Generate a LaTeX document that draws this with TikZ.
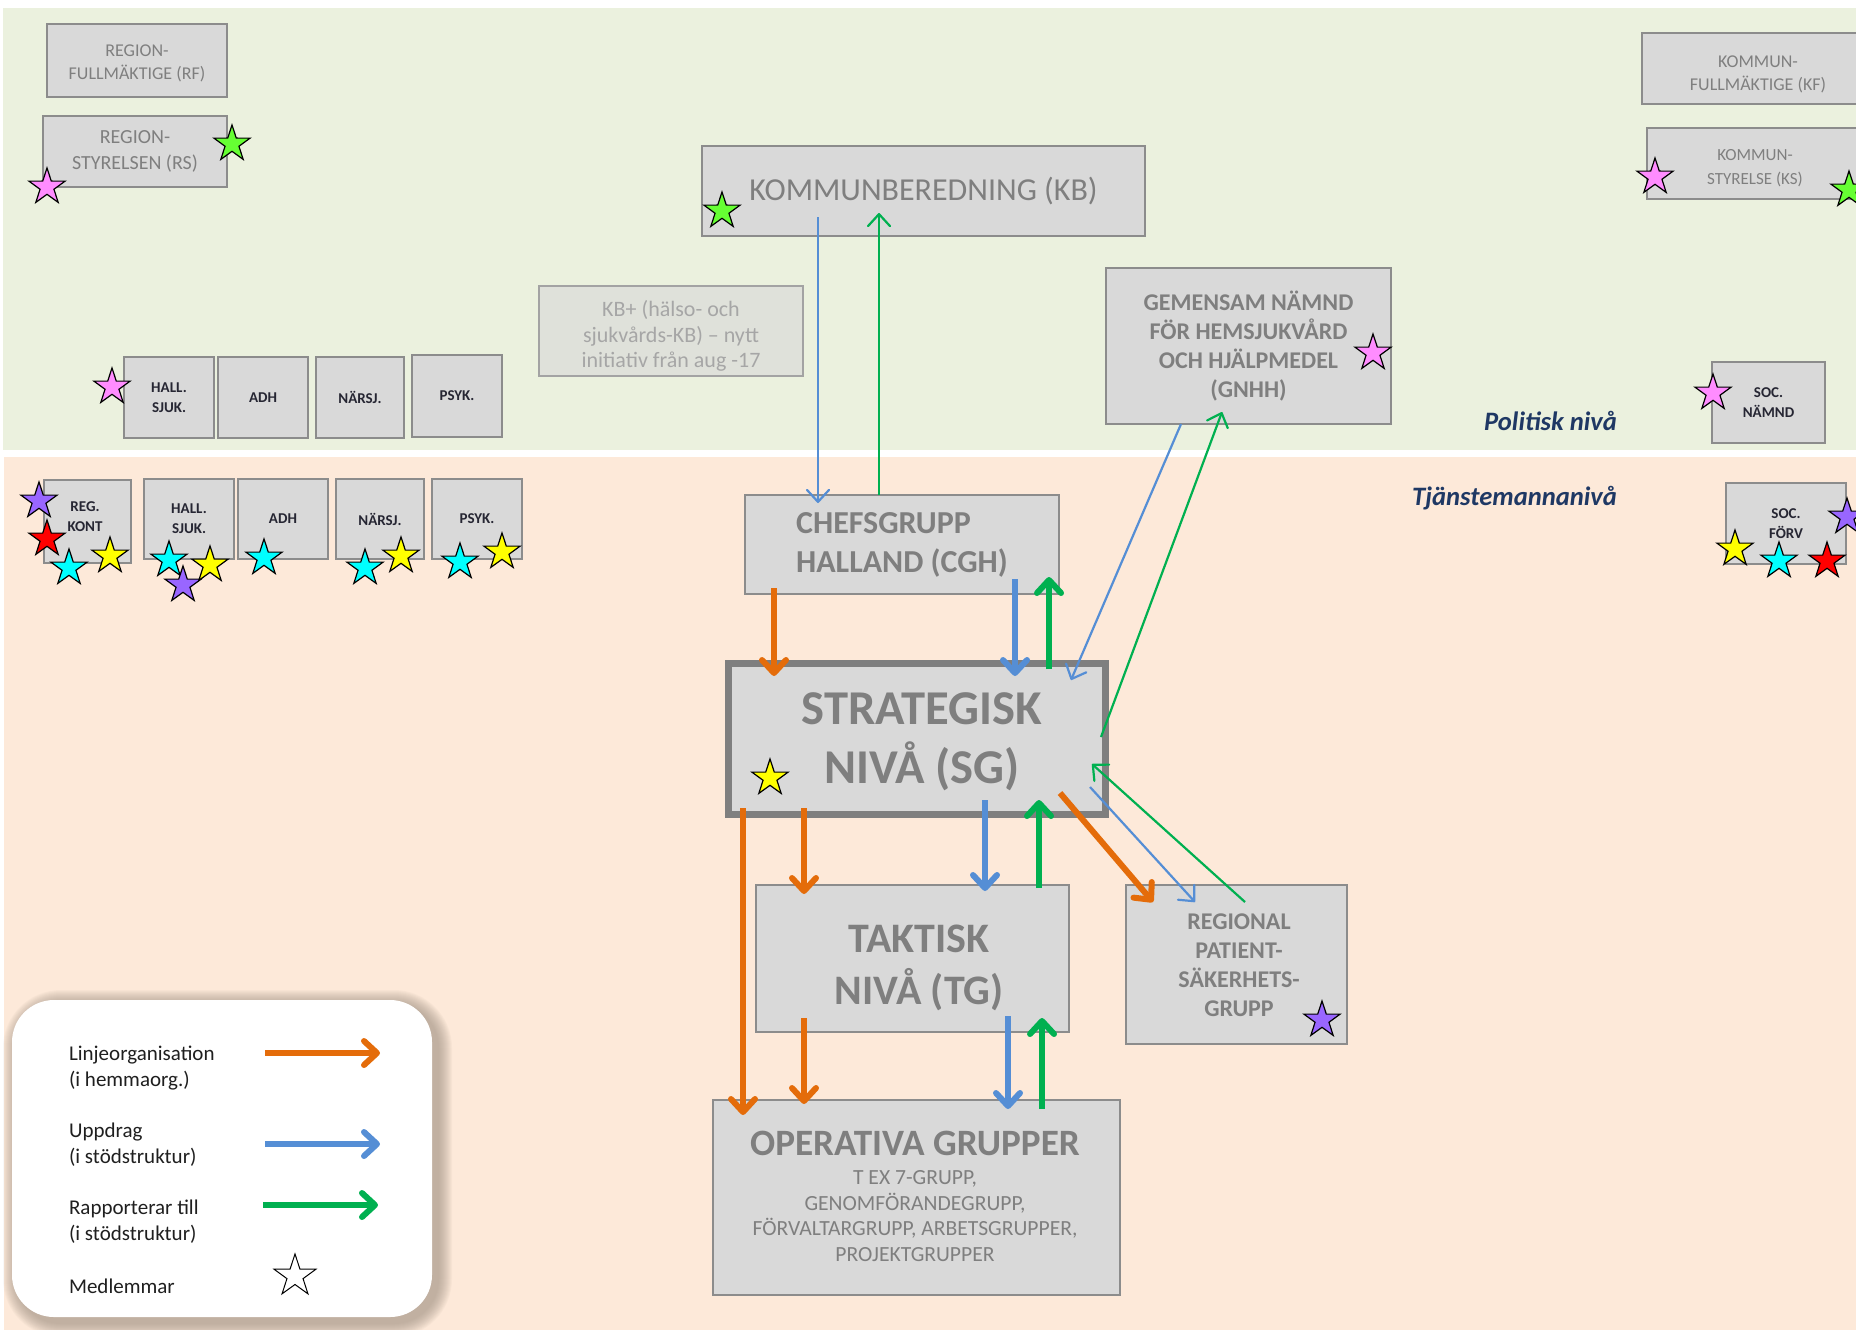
\documentclass[tikz,border=0pt]{standalone}
\usepackage{fontspec}
\setmainfont{Carlito}
\usetikzlibrary{arrows.meta,shapes.geometric}
\definecolor{bggreen}{HTML}{EBF1DE}
\definecolor{bgpeach}{HTML}{FDE9D9}
\definecolor{boxfill}{HTML}{D9D9D9}
\definecolor{boxline}{HTML}{8C8C8C}
\definecolor{boxtext}{HTML}{7F7F7F}
\definecolor{kbpfill}{HTML}{DFE1DA}
\definecolor{kbptext}{HTML}{A6A6A6}
\definecolor{darktext}{HTML}{262633}
\definecolor{navy}{HTML}{1F3864}
\definecolor{corg}{HTML}{E46C0A}
\definecolor{cblue}{HTML}{558ED5}
\definecolor{cgreen}{HTML}{00B050}
\definecolor{shadowc}{HTML}{9C8E80}
\definecolor{spink}{HTML}{FF8CFF}
\definecolor{sgreen}{HTML}{66FF33}
\definecolor{spurple}{HTML}{9966FF}
\definecolor{sred}{HTML}{FF0000}
\definecolor{scyan}{HTML}{00FFFF}
\definecolor{syellow}{HTML}{FFFF00}
\newcommand{\bx}[7]{\node[#1,minimum width={(#5-#3)*0.5pt},minimum height={(#6-#4)*0.5pt}] (#2) at ({(#3+#5)/2},{(#4+#6)/2}) {#7};}
\tikzset{
  box/.style={draw=boxline, fill=boxfill, line width=0.9pt, inner sep=0pt, align=center, text=boxtext},
  smallbox/.style={box, font=\fontsize{7.5}{10}\selectfont\bfseries, text=darktext},
  govbox/.style={box, font=\fontsize{9}{11.5}\selectfont},
  mstar/.style={star, star points=5, star point ratio=2.6, minimum size=19pt, inner sep=0pt, draw=black, line width=0.6pt},
  thinarr/.style={line width=1.1pt, -{Straight Barb[length=6pt,width=11pt,round]}},
  thickarr/.style={line width=3pt, -{Straight Barb[length=6.5pt,width=12pt,round]}},
  legarr/.style={line width=3pt, -{Straight Barb[length=6.5pt,width=12pt,round]}},
  legtext/.style={anchor=west, align=left, text=black!88, font=\fontsize{10.5}{13}\selectfont},
  level/.style={anchor=east, text=navy, font=\fontsize{13.3}{15}\selectfont\bfseries\itshape}
}
\begin{document}
\begin{tikzpicture}[x=0.5pt,y=-0.5pt]
\useasboundingbox (0,0) rectangle (1856,1329);
\clip (0,0) rectangle (1856,1329);
\fill[white] (0,0) rectangle (1856,1329);
\fill[bggreen] (3,8) rectangle (1860,450);
\fill[bgpeach] (4,457) rectangle (1860,1333);

% level labels
\node[level] (pol) at (1624,421) {Politisk nivå};
\node[level] (tjm) at (1624,498) {Tjänstemannanivå};

% political boxes
\bx{govbox}{rf}{47}{24}{227}{97}{}
\node[text=boxtext,align=center,font=\fontsize{9}{11.5}\selectfont] (rft) at (137,63) {REGION-\\FULLMÄKTIGE (RF)};
\bx{govbox,font=\fontsize{10}{13}\selectfont}{rs}{43}{116}{227}{187}{REGION-\\STYRELSEN (RS)}
\bx{govbox}{kf}{1642}{33}{1874}{104}{}
\node[text=boxtext,align=center,font=\fontsize{9}{11.5}\selectfont] (kft) at (1758,74) {KOMMUN-\\FULLMÄKTIGE (KF)};
\bx{govbox}{ks}{1647}{128}{1863}{199}{}
\node[text=boxtext,align=center,font=\fontsize{8.5}{12}\selectfont] (kst) at (1755,168) {KOMMUN-\\STYRELSE (KS)};
\bx{box,font=\fontsize{16}{19}\selectfont}{kb}{702}{146}{1145}{236}{KOMMUNBEREDNING (KB)}
\bx{box,fill=kbpfill,draw=boxline!80}{kbp}{539}{286}{803}{376}{}
\node[text=kbptext,align=center,font=\fontsize{11}{12.7}\selectfont] (kbpt) at (671,336) {KB+ (hälso- och\\sjukvårds-KB) – nytt\\initiativ från aug -17};
\bx{box,font=\fontsize{12}{14.5}\selectfont\bfseries}{gnhh}{1106}{268}{1391}{424}{GEMENSAM NÄMND\\FÖR HEMSJUKVÅRD\\OCH HJÄLPMEDEL\\(GNHH)}
\bx{smallbox}{u1}{124}{357}{214}{438}{HALL.\\SJUK.}
\bx{smallbox}{u2}{218}{357}{308}{438}{ADH}
\bx{smallbox}{u3}{316}{357}{404}{438}{NÄRSJ.}
\bx{smallbox}{u4}{412}{355}{502}{437}{PSYK.}
\bx{smallbox}{socn}{1712}{362}{1825}{443}{SOC.\\NÄMND}

% civil service boxes
\bx{smallbox}{l0}{44}{480}{131}{563}{}
\node[text=darktext,align=center,font=\fontsize{7.5}{10}\selectfont\bfseries] (l0t) at (85,517) {REG.\\KONT};
\bx{smallbox}{l1}{144}{479}{234}{559}{HALL.\\SJUK.}
\bx{smallbox}{l2}{238}{479}{328}{559}{ADH}
\bx{smallbox}{l3}{336}{479}{424}{559}{NÄRSJ.}
\bx{smallbox}{l4}{432}{479}{522}{559}{PSYK.}
\bx{smallbox}{socf}{1726}{483}{1846}{564}{SOC.\\FÖRV}
\bx{box,align=left,font=\fontsize{16}{19.5}\selectfont\bfseries}{cgh}{745}{495}{1059}{594}{CHEFSGRUPP\\HALLAND (CGH)}
\bx{box,draw=boxtext,line width=3.5pt}{sg}{728}{663}{1105}{814}{}
\node[text=boxtext,align=center,font=\fontsize{24.3}{29.5}\selectfont\bfseries] (sgt) at (922,742) {STRATEGISK\\NIVÅ (SG)};
\bx{box}{tg}{756}{885}{1069}{1032}{}
\node[text=boxtext,align=center,font=\fontsize{21}{26}\selectfont\bfseries] (tgt) at (919,968) {TAKTISK\\NIVÅ (TG)};
\bx{box}{op}{713}{1100}{1120}{1295}{}
\node[text=boxtext,font=\fontsize{18.6}{22}\selectfont\bfseries] (opt) at (915,1143) {OPERATIVA GRUPPER};
\node[text=boxtext,align=center,font=\fontsize{10.8}{12.7}\selectfont] (ops) at (915,1216) {T EX 7-GRUPP,\\GENOMFÖRANDEGRUPP,\\FÖRVALTARGRUPP, ARBETSGRUPPER,\\PROJEKTGRUPPER};
\bx{box}{rpsg}{1126}{885}{1347}{1044}{}
\node[text=boxtext,align=center,font=\fontsize{12}{14.5}\selectfont\bfseries] (rpt) at (1239,965) {REGIONAL\\PATIENT-\\SÄKERHETS-\\GRUPP};

% connector end points
\coordinate (kbB) at (818,217);  \coordinate (cghB) at (818,503);
\coordinate (cghG) at (879,495); \coordinate (kbG) at (879,213);
\coordinate (gnB) at (1181,424); \coordinate (sgB1) at (1071,680);
\coordinate (sgG1) at (1101,737); \coordinate (gnG) at (1222,412);
\coordinate (sgB2) at (1090,787); \coordinate (rpB) at (1195,902);
\coordinate (rpG) at (1245,902); \coordinate (sgG2) at (1092,764);
\coordinate (cghO) at (774,588); \coordinate (sgO) at (774,676);
\coordinate (cghB2) at (1015,579); \coordinate (sgB3) at (1015,676);
\coordinate (sgG3) at (1049,669); \coordinate (cghG2) at (1049,577);
\coordinate (sgO2) at (1060,793); \coordinate (rpO) at (1153,902);
\coordinate (sgO3) at (743,808); \coordinate (opO1) at (743,1115);
\coordinate (sgO4) at (804,808); \coordinate (tgO) at (804,894);
\coordinate (sgB4) at (985,800); \coordinate (tgB) at (985,891);
\coordinate (tgG) at (1039,888); \coordinate (sgG4) at (1039,800);
\coordinate (tgO2) at (804,1018); \coordinate (opO2) at (804,1104);
\coordinate (tgB2) at (1008,1016); \coordinate (opB) at (1008,1109);
\coordinate (opG) at (1042,1109); \coordinate (tgG2) at (1042,1018);

% thin connectors
\draw[thinarr, cblue] (kbB) -- (cghB);
\draw[thinarr, cgreen] (cghG) -- (kbG);
\draw[thinarr, cblue] (gnB) -- (sgB1);
\draw[thinarr, cgreen] (sgG1) -- (gnG);
\draw[thinarr, cblue] (sgB2) -- (rpB);
\draw[thinarr, cgreen] (rpG) -- (sgG2);
% thick connectors
\draw[thickarr, corg] (cghO) -- (sgO);
\draw[thickarr, cblue] (cghB2) -- (sgB3);
\draw[thickarr, cgreen] (sgG3) -- (cghG2);
\draw[thickarr, corg] (sgO2) -- (rpO);
\draw[thickarr, corg] (sgO3) -- (opO1);
\draw[thickarr, corg] (sgO4) -- (tgO);
\draw[thickarr, cblue] (sgB4) -- (tgB);
\draw[thickarr, cgreen] (tgG) -- (sgG4);
\draw[thickarr, corg] (tgO2) -- (opO2);
\draw[thickarr, cblue] (tgB2) -- (opB);
\draw[thickarr, cgreen] (opG) -- (tgG2);

% member stars
\node[mstar, fill=sgreen] (s1) at (232,144) {};
\node[mstar, fill=spink] (s2) at (47,187) {};
\node[mstar, fill=sgreen] (s3) at (722,211) {};
\node[mstar, fill=spink] (s4) at (1373,353) {};
\node[mstar, fill=spink] (s5) at (1655,177) {};
\node[mstar, fill=sgreen] (s6) at (1849,190) {};
\node[mstar, fill=spink] (s7) at (112,387) {};
\node[mstar, fill=spink] (s8) at (1713,393) {};
\node[mstar, fill=spurple] (s9) at (39,501) {};
\node[mstar, fill=sred] (s10) at (47,539) {};
\node[mstar, fill=scyan] (s11) at (69,568) {};
\node[mstar, fill=syellow] (s12) at (110,556) {};
\node[mstar, fill=scyan] (s13) at (169,560) {};
\node[mstar, fill=spurple] (s14) at (183,585) {};
\node[mstar, fill=syellow] (s15) at (210,565) {};
\node[mstar, fill=scyan] (s16) at (264,558) {};
\node[mstar, fill=scyan] (s17) at (365,568) {};
\node[mstar, fill=syellow] (s18) at (401,556) {};
\node[mstar, fill=scyan] (s19) at (460,562) {};
\node[mstar, fill=syellow] (s20) at (502,552) {};
\node[mstar, fill=spurple] (s21) at (1847,517) {};
\node[mstar, fill=syellow] (s22) at (1735,549) {};
\node[mstar, fill=scyan] (s23) at (1779,561) {};
\node[mstar, fill=sred] (s24) at (1827,561) {};
\node[mstar, fill=syellow] (s25) at (770,778) {};
\node[mstar, fill=spurple] (s26) at (1322,1020) {};

% legend
\foreach \k in {14,13,...,1}
  \fill[shadowc, opacity=0.06, rounded corners={(22+\k*0.5)*1pt}] ({17-\k},{1004-\k}) rectangle ({438+\k},{1323+\k});
\node[draw=none, fill=white, rounded corners=21pt, minimum width=210pt, minimum height=158.5pt, inner sep=0pt] (leg) at (222,1158.5) {};
\node[legtext] (lg1) at (62,1068) {Linjeorganisation\\(i hemmaorg.)};
\node[legtext] (lg2) at (62,1145) {Uppdrag\\(i stödstruktur)};
\node[legtext] (lg3) at (62,1222) {Rapporterar till\\(i stödstruktur)};
\node[legtext] (lg4) at (62,1286) {Medlemmar};
\coordinate (la1) at (265,1053); \coordinate (la2) at (380,1053);
\coordinate (lb1) at (265,1144); \coordinate (lb2) at (380,1144);
\coordinate (lc1) at (263,1205); \coordinate (lc2) at (378,1205);
\draw[legarr, corg] (la1) -- (la2);
\draw[legarr, cblue] (lb1) -- (lb2);
\draw[legarr, cgreen] (lc1) -- (lc2);
\node[mstar, fill=white, minimum size=22pt, line width=0.5pt] (lgs) at (295,1276) {};
\end{tikzpicture}
\end{document}
